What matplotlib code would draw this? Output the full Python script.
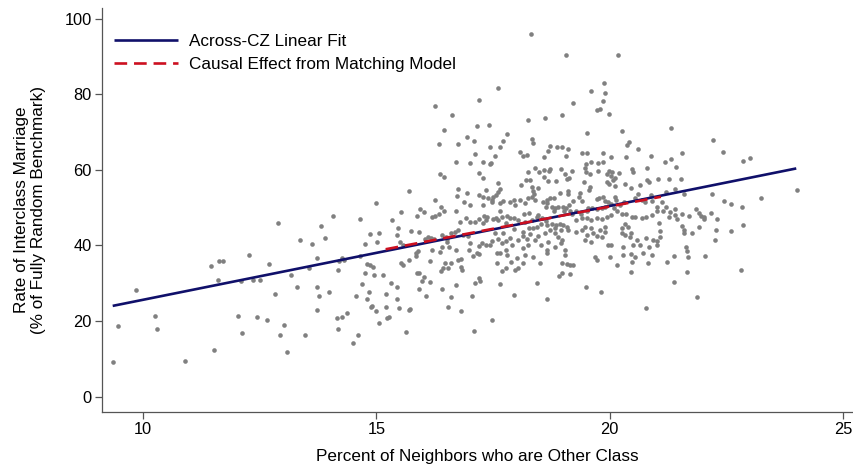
import matplotlib
matplotlib.use("Agg")
import matplotlib.pyplot as plt

plt.rcParams["font.family"] = ["Liberation Sans", "DejaVu Sans"]

# one point per commuting zone: % of neighbours from the other class (x)
# and the interclass marriage rate as % of the fully random benchmark (y)
share_other = [
    # low-exposure tail
    9.35, 9.47, 9.84, 10.26, 10.29, 10.91, 11.46, 11.63, 11.71, 11.61,
    11.53, 12.04, 12.13, 12.27, 12.10, 12.36, 12.50, 12.44, 12.66, 12.70,
    12.90, 12.83, 13.02, 12.94, 13.09, 13.17, 13.31, 13.37, 13.48, 13.56,
    13.62, 13.73, 13.72, 13.77, 13.72, 13.82, 13.89, 13.99, 14.08, 14.16,
    14.27, 14.37, 14.17, 14.18, 14.26, 14.31, 14.21, 14.49, 14.61, 14.56,
    14.65, 14.64, 14.70, 14.76, 14.76, 14.81, 14.81,
    # 15-18, upper part
    17.60, 17.19, 16.26, 16.63, 17.16, 17.42, 16.46, 16.94, 17.09, 17.79,
    16.35, 16.76, 17.43, 17.72, 17.65, 17.11, 17.54, 16.71, 17.01, 17.28,
    17.46, 17.44, 16.36, 16.46, 17.21, 17.29, 17.61, 15.71, 16.74, 17.34,
    17.66, 17.61, 16.95, 16.73, 17.19, 17.29, 17.39, 17.49, 17.56, 17.47,
    16.26,
    # 15-18, lower part
    14.99, 15.52, 15.94, 16.03, 15.88, 16.19, 16.25, 16.34, 16.38, 16.46,
    16.70, 16.88, 17.01, 17.28, 17.48, 17.64, 17.71, 16.93, 16.79, 17.01,
    17.19, 17.11, 17.31, 17.37, 17.34, 17.28, 17.49, 17.57, 17.60, 17.66,
    17.69, 17.79, 17.77, 15.34, 15.46, 15.44, 15.74, 15.92, 15.06, 14.87,
    15.01, 15.51, 15.58, 15.84, 15.90, 15.86, 16.11, 16.18, 16.05, 16.24,
    16.40, 16.49, 16.52, 16.59, 16.69, 16.74, 16.86, 16.96, 16.51, 16.40,
    16.36, 16.19, 16.55, 16.71, 17.01, 17.19, 16.99, 17.15, 17.26, 17.47,
    17.44, 17.35, 17.60, 17.70, 17.77, 17.72, 17.54, 17.65, 17.59, 17.77,
    17.79, 14.87, 14.92, 14.96, 15.15, 15.53, 15.58, 15.71, 16.16, 15.88,
    15.92, 16.02, 15.97, 16.14, 16.39, 16.42, 16.48, 16.59, 16.54, 16.75,
    16.81, 16.81, 16.84, 17.08, 17.20, 17.19, 17.22, 17.12, 17.59, 17.69,
    17.78, 15.31, 15.44, 14.85, 15.20, 15.91, 16.06, 16.41, 16.59, 16.70,
    17.05, 17.64, 15.44, 14.91, 14.89, 14.99, 15.21, 15.48, 15.69, 15.72,
    16.54, 16.81, 15.22, 15.28, 15.06, 15.63, 17.10, 17.47,
    # 18-21, upper part
    18.32, 19.06, 20.19, 19.89, 19.61, 19.91, 19.85, 19.22, 19.72, 19.79,
    19.99, 18.26, 18.62, 18.97, 20.26, 19.51, 18.34, 18.36, 20.38, 20.41,
    20.61, 18.72, 18.69, 18.88, 18.97, 19.10, 18.08, 18.15, 18.22, 18.60,
    19.06, 19.41, 19.51, 19.85, 20.03, 20.36, 20.88, 19.60, 19.49, 19.76,
    19.86,
    # 18-21, dense band
    18.40, 18.49, 18.59, 18.70, 18.72, 18.26, 18.96, 19.04, 19.14, 19.20,
    19.47, 19.49, 19.58, 19.76, 19.94, 19.99, 20.03, 20.06, 20.11, 20.20,
    20.47, 20.51, 20.81, 18.20, 18.30, 18.10, 18.60, 18.67, 18.86, 19.08,
    19.46, 19.57, 19.94, 19.99, 20.08, 20.11, 20.33, 20.46, 20.65, 20.81,
    20.84,
    18.33, 18.36, 18.47, 18.33, 18.39, 18.40, 18.26, 18.19, 18.08, 17.94,
    17.86, 17.97, 18.58, 18.65, 18.72, 18.81, 18.66, 18.64, 18.76, 18.83,
    18.90, 18.81, 18.94, 19.10, 19.11, 19.22, 19.36, 19.34, 19.56, 19.41,
    19.72, 19.78, 19.86, 19.90, 19.97, 20.11, 20.13, 20.22, 20.10, 20.31,
    20.54, 20.61, 20.69, 20.76, 20.89, 20.90, 19.01, 19.06, 19.13, 19.02,
    19.15, 19.20, 19.29, 19.38, 19.51, 19.54, 19.63, 19.72, 19.83, 19.90,
    20.03,
    18.27, 18.17, 17.86, 17.94, 18.04, 18.19, 18.33, 18.44, 18.47, 18.56,
    18.63, 18.54, 18.65, 18.76, 18.86, 18.94, 19.01, 19.09, 19.11, 18.96,
    18.83, 18.72, 18.44, 18.36, 18.27, 18.15, 17.96, 19.29, 19.40, 19.51,
    19.61, 19.72, 19.83, 19.94, 20.04, 20.15, 20.26, 20.36, 20.47, 20.54,
    20.69, 20.79, 20.90, 20.33, 20.40, 20.26, 19.61, 19.79, 19.90, 19.47,
    19.40,
    18.15, 18.29, 18.22, 18.47, 18.61, 18.83, 18.90, 18.97, 18.96, 18.69,
    18.40, 18.04, 17.86, 18.26, 18.15, 17.90, 18.54, 18.65, 18.83, 19.04,
    19.29, 19.51, 19.65, 19.72, 19.83, 19.90, 19.61, 19.47, 19.97, 20.03,
    20.26, 20.34, 20.46, 20.44, 20.58, 20.65, 20.79, 20.94, 20.84, 20.51,
    20.29,
    18.19, 18.01, 17.89, 18.36, 18.65, 18.51, 18.15, 18.04, 17.97, 19.04,
    18.97, 19.08, 19.15, 19.21, 18.97, 18.91, 19.16, 19.69, 19.72, 20.01,
    20.29, 20.46, 20.54, 20.47, 20.72, 20.83, 20.90, 20.15, 20.46, 18.45,
    19.49, 19.81, 17.96, 18.65, 20.77,
    # high-exposure tail
    21.32, 22.22, 22.44, 21.56, 21.31, 21.19, 21.43, 22.86, 23.01, 21.03,
    21.28, 21.54, 21.41, 21.59, 22.20, 24.01, 23.24, 21.21, 21.12, 22.46,
    22.60, 22.83, 21.02, 21.02, 21.14, 21.20, 21.29, 21.40, 21.40, 21.28,
    21.44, 21.56, 21.71, 21.86, 21.92, 21.95, 22.02, 22.03, 22.18, 22.31,
    21.06, 21.56, 21.59, 21.59, 21.76, 21.92, 22.28, 22.60, 22.85, 21.09,
    21.09, 21.01, 21.01, 21.64, 21.65, 21.67, 21.38, 22.04, 22.25, 21.24,
    21.65, 21.38, 22.82, 21.87,
]

marriage_rate = [
    # low-exposure tail
    9.1, 18.8, 28.1, 21.3, 17.9, 9.5, 34.5, 35.9, 35.9, 30.9,
    12.2, 21.4, 16.9, 37.5, 30.6, 30.9, 30.9, 21.1, 20.3, 35.1,
    45.9, 27.2, 18.9, 16.3, 11.8, 32.1, 29.0, 41.5, 16.4, 34.1,
    40.3, 36.8, 29.1, 26.6, 22.8, 45.1, 42.1, 27.7, 47.9, 20.7,
    21.1, 22.0, 17.8, 33.6, 36.8, 36.1, 35.9, 14.1, 16.2, 26.6,
    47.0, 37.2, 29.9, 40.3, 32.7, 25.7, 35.0,
    # 15-18, upper part
    81.8, 78.5, 76.9, 74.5, 71.7, 72.0, 70.5, 68.7, 67.7, 69.5,
    66.9, 66.9, 66.2, 67.6, 66.0, 64.1, 63.6, 62.1, 61.8, 62.2,
    61.9, 61.5, 59.0, 58.2, 59.1, 58.0, 56.5, 54.3, 55.0, 54.7,
    54.9, 54.2, 54.0, 53.1, 53.4, 52.8, 52.6, 52.9, 53.4, 52.1,
    52.1,
    # 15-18, lower part
    51.2, 48.9, 49.6, 48.9, 47.8, 47.5, 47.8, 48.3, 50.1, 49.1,
    49.0, 51.6, 50.7, 50.7, 51.6, 51.3, 51.8, 47.2, 46.3, 46.2,
    47.1, 46.1, 47.8, 47.5, 46.8, 46.0, 47.1, 47.3, 46.8, 49.0,
    47.6, 47.8, 45.9, 46.8, 44.5, 42.8, 43.8, 43.5, 43.3, 43.0,
    40.9, 40.8, 40.1, 37.9, 38.6, 37.3, 42.2, 41.9, 41.6, 41.6,
    42.9, 42.3, 41.8, 43.2, 43.7, 44.1, 42.7, 42.5, 41.0, 39.7,
    38.4, 38.8, 39.5, 38.8, 40.6, 39.9, 38.8, 37.9, 40.6, 41.3,
    40.1, 40.1, 41.6, 40.6, 41.2, 43.2, 43.2, 37.9, 37.9, 38.8,
    37.5, 34.8, 34.4, 32.1, 32.1, 35.4, 34.8, 36.2, 35.9, 32.8,
    32.8, 31.7, 30.6, 30.3, 33.2, 34.0, 35.4, 35.4, 34.0, 36.2,
    36.3, 34.4, 33.5, 37.2, 37.7, 31.3, 30.6, 30.1, 35.4, 33.2,
    34.1, 30.0, 29.1, 27.8, 27.1, 28.5, 26.7, 28.6, 26.4, 29.4,
    26.5, 29.7, 25.7, 24.0, 23.6, 22.7, 23.8, 23.4, 22.9, 23.2,
    23.7, 22.6, 20.9, 21.1, 19.6, 17.0, 17.4, 20.3,
    # 18-21, upper part
    96.0, 90.4, 90.4, 82.9, 81.0, 80.3, 78.3, 77.7, 75.9, 76.2,
    74.8, 73.1, 73.7, 74.5, 70.4, 69.7, 68.1, 67.1, 66.6, 67.4,
    65.6, 66.4, 65.1, 66.2, 66.0, 65.6, 64.7, 63.7, 64.0, 63.3,
    63.7, 64.5, 64.6, 64.4, 63.5, 63.4, 63.6, 62.2, 61.5, 61.8,
    62.0,
    # 18-21, dense band
    60.4, 59.4, 60.0, 59.6, 60.3, 59.4, 60.3, 58.9, 58.0, 59.7,
    60.6, 59.4, 58.9, 59.8, 58.9, 59.6, 58.5, 59.4, 58.0, 59.1,
    60.3, 59.4, 60.4, 57.4, 57.4, 55.9, 58.2, 57.1, 57.1, 57.6,
    56.9, 55.6, 56.9, 56.2, 57.4, 55.7, 56.2, 55.3, 55.9, 57.4,
    56.7,
    55.6, 54.3, 55.1, 52.9, 53.6, 52.1, 52.5, 51.2, 52.1, 52.1,
    51.4, 50.7, 51.6, 52.1, 52.5, 52.5, 51.2, 50.3, 50.3, 49.8,
    50.1, 49.2, 53.8, 54.3, 53.6, 51.8, 53.8, 52.9, 54.7, 51.8,
    52.2, 52.5, 52.9, 51.8, 51.4, 52.9, 52.0, 50.7, 50.0, 51.6,
    52.5, 53.6, 52.1, 51.6, 53.4, 51.8, 50.3, 49.8, 50.7, 49.2,
    49.0, 48.3, 49.0, 48.3, 49.0, 50.0, 50.0, 49.6, 50.0, 50.3,
    50.9,
    48.7, 48.3, 47.4, 47.2, 46.8, 46.3, 46.8, 47.6, 48.1, 47.2,
    46.5, 45.7, 45.4, 45.8, 45.4, 45.6, 45.3, 45.0, 44.1, 44.1,
    44.5, 44.1, 45.0, 44.5, 44.5, 43.7, 44.4, 46.8, 47.2, 47.4,
    46.8, 47.2, 47.0, 47.6, 48.1, 49.0, 48.3, 48.3, 47.6, 47.6,
    47.2, 47.6, 48.1, 45.6, 45.0, 44.5, 44.5, 44.1, 45.0, 45.0,
    44.1,
    42.6, 43.0, 41.7, 42.6, 43.2, 43.2, 42.3, 41.5, 40.6, 40.8,
    41.5, 41.5, 42.1, 40.1, 39.2, 40.1, 40.1, 38.8, 39.7, 38.8,
    43.7, 42.8, 43.2, 42.6, 42.3, 43.7, 40.8, 41.5, 40.1, 40.0,
    43.2, 42.8, 43.4, 42.3, 41.5, 40.1, 42.1, 41.5, 39.7, 40.1,
    39.7,
    37.5, 36.6, 35.5, 37.0, 37.9, 35.3, 35.3, 34.0, 33.5, 37.5,
    35.3, 35.1, 34.8, 34.7, 32.6, 32.0, 32.4, 37.0, 36.2, 37.0,
    37.5, 37.7, 37.0, 35.7, 37.9, 35.3, 37.5, 34.7, 33.1, 30.0,
    29.0, 27.7, 26.8, 25.8, 23.4,
    # high-exposure tail
    71.1, 68.0, 64.8, 64.6, 63.0, 62.0, 60.7, 62.4, 63.1, 57.6,
    57.5, 57.5, 54.9, 53.5, 53.5, 54.8, 52.5, 54.1, 51.6, 51.7,
    51.1, 50.1, 50.3, 49.2, 49.2, 50.3, 48.9, 49.6, 48.1, 47.5,
    46.9, 48.3, 47.8, 49.6, 48.7, 47.8, 47.5, 46.9, 48.5, 46.9,
    45.9, 45.2, 44.1, 43.2, 43.2, 44.8, 44.2, 43.8, 45.5, 43.9,
    42.2, 41.3, 40.0, 39.5, 38.6, 36.9, 37.1, 37.2, 41.5, 35.5,
    32.9, 30.3, 33.4, 26.3,
]

# endpoints of the two summary lines
fit_x = [9.35, 24.0]
fit_y = [24.0, 60.4]
causal_x = [15.2, 21.1]
causal_y = [39.0, 52.9]

x_ticks = [10, 15, 20, 25]
y_ticks = [0, 20, 40, 60, 80, 100]

assert len(share_other) == len(marriage_rate)

fig = plt.figure(figsize=(8.54, 4.66), dpi=100)
ax = fig.add_axes([0.1194, 0.1159, 0.878, 0.867])

ax.scatter(share_other, marriage_rate, s=11, color="#808080", linewidths=0, zorder=2)
ax.plot(fit_x, fit_y, color="#10106a", lw=1.9, solid_capstyle="butt",
        label="Across-CZ Linear Fit", zorder=3)
ax.plot(causal_x, causal_y, color="#cc1020", lw=1.9, dashes=(4.8, 2.6),
        dash_capstyle="butt", label="Causal Effect from Matching Model", zorder=4)

ax.set_xlim(9.12, 25.19)
ax.set_ylim(-4.1, 102.9)
ax.set_xticks(x_ticks)
ax.set_yticks(y_ticks)

for side in ("top", "right"):
    ax.spines[side].set_visible(False)
for side in ("left", "bottom"):
    ax.spines[side].set_color("#555555")
    ax.spines[side].set_linewidth(0.9)
ax.tick_params(direction="out", length=5, width=0.9, color="#555555",
               labelsize=11.8, pad=2.2, labelcolor="black")

ax.set_xlabel("Percent of Neighbors who are Other Class", fontsize=12.3, va="top")
ax.xaxis.set_label_coords(0.5, -0.092)
fig.text(30 / 854, 1 - 210 / 466,
         "Rate of Interclass Marriage\n(% of Fully Random Benchmark)",
         rotation=90, ha="center", va="center", fontsize=12.3, linespacing=1.2)

ax.legend(loc="upper left", bbox_to_anchor=(0.016, 0.935), frameon=False,
          fontsize=12.3, handlelength=3.76, handletextpad=0.65,
          labelspacing=0.47, borderaxespad=0, borderpad=0)

fig.savefig("out.png", dpi=100)
